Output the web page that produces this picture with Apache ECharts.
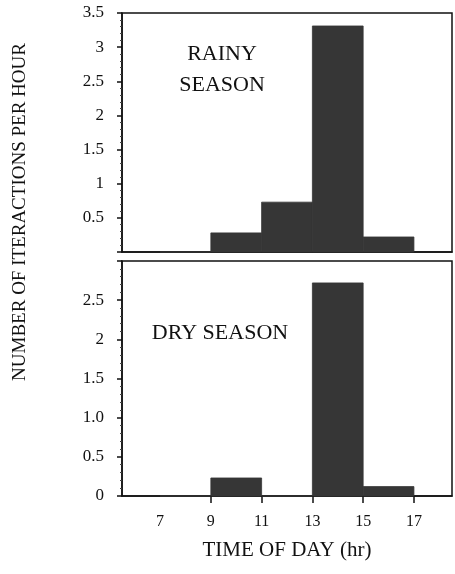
<!DOCTYPE html>
<html>
<head>
<meta charset="utf-8">
<script src="https://cdn.jsdelivr.net/npm/echarts@6/dist/echarts.min.js"></script>
<style>
  html, body { margin: 0; padding: 0; background: #fff; }
  #chart { width: 455px; height: 574px; }
</style>
</head>
<body>
<div id="chart"></div>
<script>
// bins are two hours wide, start hour of each bin
const binStart = [7, 9, 11, 13, 15]
const binWidth = 2
const rainy = [0, 0.28, 0.73, 3.31, 0.22]
const dry = [0, 0.23, 0, 2.72, 0.12]

const hourLabels = [7, 9, 11, 13, 15, 17]
const hourTicks = [9, 11, 13, 15, 17]
const rainyTicks = ['', '0.5', '1', '1.5', '2', '2.5', '3', '3.5']
const dryTicks = ['0', '0.5', '1.0', '1.5', '2', '2.5', '']

const serif = "'Liberation Serif', 'DejaVu Serif', serif"

const toRows = (vals) => binStart.map((s, i) => [s, s + binWidth, vals[i]])

const chart = echarts.init(document.getElementById('chart'))

function renderBar(params, api) {
  const top = api.coord([api.value(0), api.value(2)])
  const bot = api.coord([api.value(1), 0])
  return {
    type: 'rect',
    shape: { x: top[0], y: top[1], width: bot[0] - top[0], height: bot[1] - top[1] },
    style: api.style({ stroke: '#363636', lineWidth: 0.8 })
  }
}

const xBase = {
  type: 'value',
  min: 5.5,
  max: 18.5,
  splitLine: { show: false },
  axisLine: { lineStyle: { color: '#111', width: 1.5 } }
}

const yBase = {
  type: 'value',
  min: 0,
  interval: 0.5,
  splitLine: { show: false },
  axisLine: { show: true, lineStyle: { color: '#111', width: 1.5 } },
  axisTick: { show: true, inside: false, length: 5, lineStyle: { color: '#111', width: 1.5 } },
  minorTick: { show: true, splitNumber: 5, length: 2, lineStyle: { color: '#444' } },
  axisLabel: { color: '#111', fontFamily: serif, fontSize: 17, margin: 18 }
}

const option = {
  backgroundColor: '#fff',
  animation: false,
  grid: [
    { left: 122, right: 3, top: 13, height: 239, show: true, borderColor: '#111', borderWidth: 1.5 },
    { left: 122, right: 3, top: 261, height: 235, show: true, borderColor: '#111', borderWidth: 1.5 }
  ],
  xAxis: [
    Object.assign({}, xBase, {
      gridIndex: 0,
      axisTick: { show: false },
      axisLabel: { show: false }
    }),
    Object.assign({}, xBase, {
      gridIndex: 1,
      axisTick: { show: true, length: 7, customValues: hourTicks, lineStyle: { color: '#111', width: 1.5 } },
      axisLabel: { color: '#111', fontFamily: serif, fontSize: 16, margin: 18, customValues: hourLabels },
      name: 'TIME OF DAY (hr)',
      nameLocation: 'middle',
      nameGap: 44,
      nameTextStyle: { color: '#111', fontFamily: serif, fontSize: 21 }
    })
  ],
  yAxis: [
    Object.assign({}, yBase, {
      gridIndex: 0,
      max: 3.5,
      axisLabel: Object.assign({}, yBase.axisLabel, {
        formatter: (v) => rainyTicks[Math.round(v / 0.5)]
      })
    }),
    Object.assign({}, yBase, {
      gridIndex: 1,
      max: 3,
      axisLabel: Object.assign({}, yBase.axisLabel, {
        formatter: (v) => dryTicks[Math.round(v / 0.5)]
      })
    })
  ],
  graphic: [
    {
      type: 'text',
      x: 20, y: 212,
      rotation: Math.PI / 2,
      style: {
        text: 'NUMBER OF ITERACTIONS PER HOUR',
        fill: '#111', font: '19px ' + serif,
        textAlign: 'center', textVerticalAlign: 'middle'
      }
    },
    {
      type: 'text',
      x: 222, y: 70,
      style: {
        text: 'RAINY\nSEASON',
        fill: '#111', font: '22px ' + serif, lineHeight: 31,
        textAlign: 'center', textVerticalAlign: 'middle'
      }
    },
    {
      type: 'text',
      x: 220, y: 333,
      style: {
        text: 'DRY SEASON',
        fill: '#111', font: '22px ' + serif,
        textAlign: 'center', textVerticalAlign: 'middle'
      }
    }
  ],
  series: [
    {
      name: 'Rainy season',
      type: 'custom',
      xAxisIndex: 0,
      yAxisIndex: 0,
      renderItem: renderBar,
      encode: { x: [0, 1], y: 2 },
      itemStyle: { color: '#363636' },
      data: toRows(rainy)
    },
    {
      name: 'Dry season',
      type: 'custom',
      xAxisIndex: 1,
      yAxisIndex: 1,
      renderItem: renderBar,
      encode: { x: [0, 1], y: 2 },
      itemStyle: { color: '#363636' },
      data: toRows(dry)
    }
  ]
}

chart.setOption(option)
</script>
</body>
</html>
